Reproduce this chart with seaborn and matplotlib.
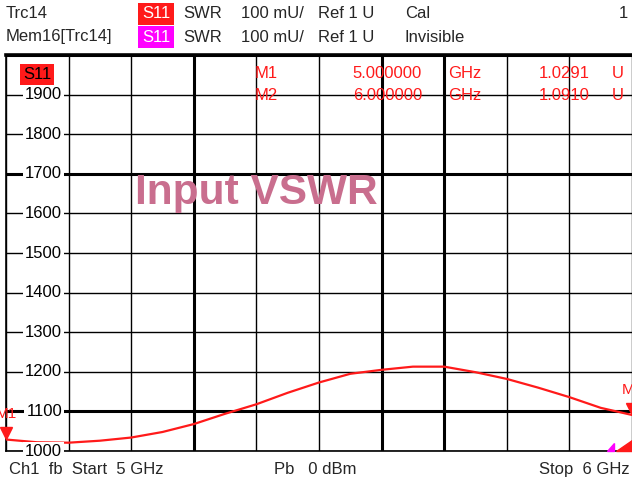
import matplotlib
matplotlib.use("Agg")
import matplotlib.pyplot as plt
import matplotlib.transforms as mtransforms
from matplotlib.patches import Rectangle
import seaborn as sns
import pandas as pd

# trace data
freq_ghz = [5.00, 5.05, 5.10, 5.15, 5.20, 5.25, 5.30, 5.35, 5.40, 5.45, 5.50,
            5.55, 5.60, 5.65, 5.70, 5.75, 5.80, 5.85, 5.90, 5.95, 6.00]
swr_mu = [1029, 1022, 1021, 1026, 1034, 1048, 1068, 1094, 1118, 1147, 1173,
          1195, 1205, 1213, 1213, 1199, 1182, 1160, 1136, 1109, 1091]

marker_names = ["M1", "M2"]
marker_freq = [5.0, 6.0]
marker_swr = [1.0291, 1.0910]

x_grid = [5.0, 5.1, 5.2, 5.3, 5.4, 5.5, 5.6, 5.7, 5.8, 5.9, 6.0]
x_grid_bold = [5.3, 5.6, 5.7]
y_ticks = [1000, 1100, 1200, 1300, 1400, 1500, 1600, 1700, 1800, 1900, 2000]
y_ticks_bold = [1100, 1700, 2000]

W, H = 632, 486
RED = "#ff1a1a"
MAGENTA = "#ff00ff"

sns.set_style("white")
plt.rcParams["font.family"] = ["Liberation Sans", "DejaVu Sans"]


def fx(x):
    return x / W


def fy(y):
    return 1 - y / H


fig = plt.figure(figsize=(W / 100, H / 100), dpi=100)
ax = fig.add_axes([fx(6), (H - 451) / H, (W - 6) / W, 396 / H])

df = pd.DataFrame({"freq": freq_ghz, "swr": swr_mu})
sns.lineplot(data=df, x="freq", y="swr", color=RED, linewidth=1.6, ax=ax, zorder=5)

ax.set_xlim(5.0, 6.0)
ax.set_ylim(1000, 2000)
ax.set_xticks([])
ax.set_yticks([])
ax.set_xlabel("")
ax.set_ylabel("")

for xv in x_grid:
    ax.axvline(xv, color="black", lw=2.2 if xv in x_grid_bold else 1.0, zorder=1)
for yv in y_ticks:
    ax.axhline(yv, color="black", lw=2.2 if yv in y_ticks_bold else 1.0, zorder=1)

ax.spines["right"].set_visible(False)
ax.spines["left"].set_linewidth(1.2)
ax.spines["bottom"].set_linewidth(1.2)
ax.spines["top"].set_linewidth(2.6)
for side in ["left", "bottom", "top"]:
    ax.spines[side].set_color("black")

# y labels sit inside the grid with a white knock-out
ylab = mtransforms.blended_transform_factory(ax.transAxes, ax.transData)
for yv in y_ticks[:-1]:
    ax.text((62 - 6) / (W - 6), yv, str(yv), transform=ylab, ha="right", va="center",
            fontsize=12, color="black", zorder=6, clip_on=False,
            bbox=dict(facecolor="white", edgecolor="none", pad=1.5))

# markers
tri_off = mtransforms.offset_copy(ax.transData, fig=fig, y=4.5, units="points")
lab_off = mtransforms.offset_copy(ax.transData, fig=fig, y=18, units="points")
for name, f, v in zip(marker_names, marker_freq, marker_swr):
    ax.plot(f, v * 1000, marker="v", markersize=9, color=RED, transform=tri_off,
            clip_on=False, zorder=7)
    ax.text(f, v * 1000, name, transform=lab_off, ha="center", va="center",
            fontsize=11, color=RED, clip_on=False, zorder=7)

# marker table
for i, (name, f, v) in enumerate(zip(marker_names, marker_freq, marker_swr)):
    y = fy(73 + i * 23)
    fig.text(fx(255), y, name, color=RED, fontsize=12, va="center")
    fig.text(fx(422), y, f"{f:.6f}", color=RED, fontsize=12, va="center", ha="right")
    fig.text(fx(448), y, "GHz", color=RED, fontsize=12, va="center")
    fig.text(fx(590), y, f"{v:.4f}", color=RED, fontsize=12, va="center", ha="right")
    fig.text(fx(612), y, "U", color=RED, fontsize=12, va="center")

# S11 tag inside the grid
fig.add_artist(Rectangle((fx(20), fy(85)), 34 / W, 21 / H, transform=fig.transFigure,
                         facecolor=RED, edgecolor="none", zorder=8))
fig.text(fx(37), fy(74.5), "S11", color="black", fontsize=12, ha="center", va="center", zorder=9)

ax.text(fx(135), fy(193), "Input VSWR", transform=fig.transFigure, fontsize=30.5,
        fontweight="bold", color="#c96e8e", va="center", ha="left", zorder=8)

# header lines
rows = [(14, "Trc14", RED, "Cal"), (37, "Mem16[Trc14]", MAGENTA, "Invisible")]
for y, name, col, state in rows:
    fig.add_artist(Rectangle((fx(138), fy(y + 11)), 36 / W, 22 / H,
                             transform=fig.transFigure, facecolor=col, edgecolor="none"))
    fig.text(fx(156), fy(y), "S11", color="white", fontsize=12, ha="center", va="center")
    fig.text(fx(6), fy(y), name, fontsize=12, va="center")
    fig.text(fx(183), fy(y), "SWR", fontsize=12, va="center")
    fig.text(fx(241), fy(y), "100 mU/", fontsize=12, va="center")
    fig.text(fx(318), fy(y), "Ref 1 U", fontsize=12, va="center")
    fig.text(fx(405), fy(y), state, fontsize=12, va="center")
fig.text(fx(628), fy(14), "1", fontsize=12, va="center", ha="right")

# footer
fig.text(fx(9), fy(469), "Ch1  fb  Start  5 GHz", fontsize=12, va="center")
fig.text(fx(274), fy(469), "Pb   0 dBm", fontsize=12, va="center")
fig.text(fx(630), fy(469), "Stop  6 GHz", fontsize=12, va="center", ha="right")

# small limit glyphs at bottom right
ax.fill([0.960, 0.972, 0.972], [0.0, 0.0, 0.02], color=MAGENTA, transform=ax.transAxes,
        zorder=6, clip_on=False)
ax.fill([0.975, 1.0, 1.0], [0.0, 0.0, 0.028], color=RED, transform=ax.transAxes,
        zorder=6, clip_on=False)

fig.savefig("out.png", dpi=100, facecolor="white")
